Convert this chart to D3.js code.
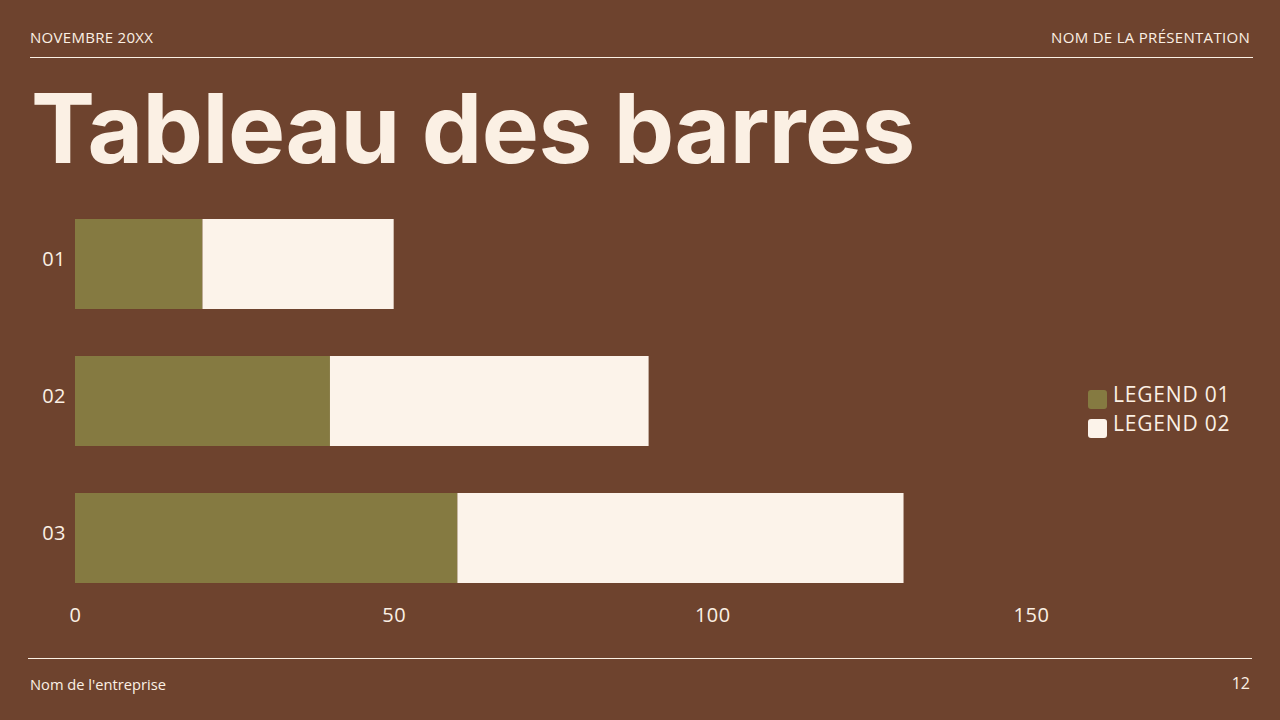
<!DOCTYPE html>
<html>
<head>
<meta charset="utf-8">
<script src="https://cdn.jsdelivr.net/npm/d3@7"></script>
<style>
  html, body { margin: 0; padding: 0; background: #6e432e; }
  svg { display: block; }
  text { fill: #fbf0e4; font-family: "Open Sans", sans-serif; }
  .title { font-family: Inter, sans-serif; font-weight: 700; }
</style>
</head>
<body>
<svg width="1280" height="720"></svg>
<script>
const categories = ["01", "02", "03"];
const legend01 = [20, 40, 60];
const legend02 = [30, 50, 70];
const seriesNames = ["LEGEND 01", "LEGEND 02"];
const xTicks = [0, 50, 100, 150];

const colors = ["#857a41", "#fcf3ea"];

function createChart() {
  const svg = d3.select("svg");

  svg.append("rect").attr("width", 1280).attr("height", 720).attr("fill", "#6e432e");

  // header / footer
  svg.append("text").attr("x", 30).attr("y", 43).style("font-size", "15px")
    .style("letter-spacing", "0.3px").text("NOVEMBRE 20XX");
  svg.append("text").attr("x", 1250).attr("y", 43).attr("text-anchor", "end")
    .style("font-size", "15px").style("letter-spacing", "0.3px").text("NOM DE LA PRÉSENTATION");
  svg.append("line").attr("x1", 30).attr("x2", 1253).attr("y1", 57.5).attr("y2", 57.5)
    .attr("stroke", "#fbf0e4").attr("stroke-width", 1.2);
  svg.append("line").attr("x1", 28).attr("x2", 1252).attr("y1", 658.5).attr("y2", 658.5)
    .attr("stroke", "#fbf0e4").attr("stroke-width", 1.2);
  svg.append("text").attr("x", 30).attr("y", 690).style("font-size", "14.7px").text("Nom de l'entreprise");
  svg.append("text").attr("x", 1250).attr("y", 689).attr("text-anchor", "end")
    .style("font-size", "16px").text("12");

  svg.append("text").attr("class", "title").attr("x", 31).attr("y", 163)
    .style("font-size", "96px").style("letter-spacing", "-0.6px").text("Tableau des barres");

  // scales
  const x = d3.scaleLinear().domain([0, 150]).range([75, 1031]);
  const y = d3.scaleBand().domain(categories).range([195.5, 606.5])
    .paddingInner(0.343).paddingOuter(0.1715);

  const rows = categories.map((c, i) => ({ cat: c, a: legend01[i], b: legend02[i] }));
  const stacked = d3.stack().keys(["a", "b"])(rows);

  svg.append("g")
    .selectAll("g")
    .data(stacked)
    .join("g")
    .attr("fill", (d, i) => colors[i])
    .selectAll("rect")
    .data((d) => d)
    .join("rect")
    .attr("x", (d) => x(d[0]))
    .attr("width", (d) => x(d[1]) - x(d[0]))
    .attr("y", (d) => y(d.data.cat))
    .attr("height", y.bandwidth());

  // axes
  const xAxis = svg.append("g").attr("transform", "translate(0,607)")
    .call(d3.axisBottom(x).tickValues(xTicks).tickSize(0).tickPadding(0));
  xAxis.select(".domain").remove();
  xAxis.selectAll("text").attr("dy", "0.75em").style("font-size", "20px")
    .style("letter-spacing", "0.5px")
    .style("fill", "#fbf0e4").style("font-family", "'Open Sans', sans-serif");

  const yAxis = svg.append("g").attr("transform", "translate(66,-4)")
    .call(d3.axisLeft(y).tickSize(0).tickPadding(0));
  yAxis.select(".domain").remove();
  yAxis.selectAll("text").style("font-size", "20px").style("letter-spacing", "0.5px")
    .style("fill", "#fbf0e4").style("font-family", "'Open Sans', sans-serif");

  // legend
  const legend = svg.append("g").attr("transform", "translate(1088,390)");
  const items = legend.selectAll("g").data(seriesNames).join("g")
    .attr("transform", (d, i) => `translate(0,${i * 29})`);
  items.append("rect").attr("width", 19).attr("height", 19).attr("rx", 3)
    .attr("fill", (d, i) => colors[i]);
  items.append("text").attr("x", 25).attr("y", 12).style("font-size", "21px")
    .style("letter-spacing", "0.8px").text((d) => d);
}

createChart();
</script>
</body>
</html>
